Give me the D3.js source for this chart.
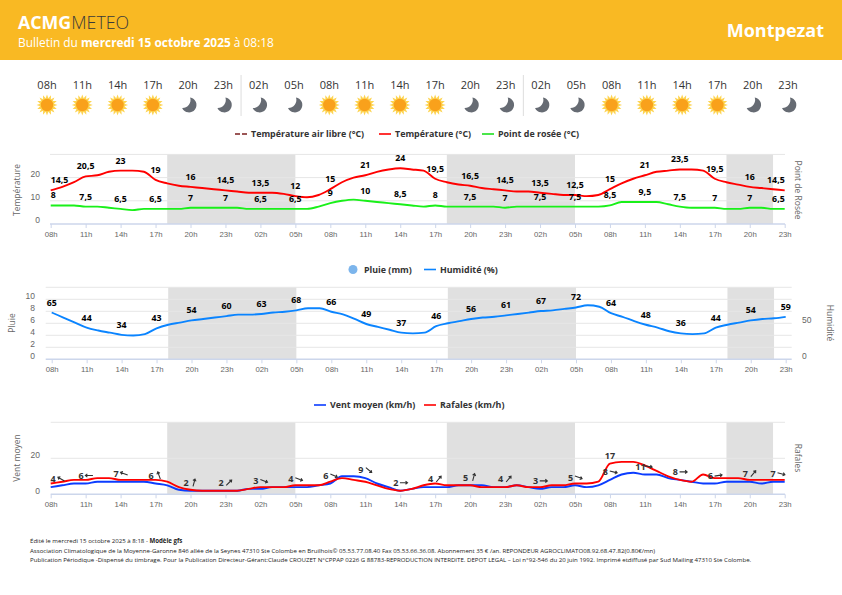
<!DOCTYPE html>
<html>
<head>
<meta charset="utf-8">
<script src="https://cdn.jsdelivr.net/npm/d3@7"></script>
<style>
  html, body { margin: 0; padding: 0; background: #fff; }
  svg { display: block; font-family: "Open Sans", sans-serif; }
  .tick text { fill: #666; font-size: 7.8px; }
  .legend { font-size: 8.9px; font-weight: 700; fill: #333; }
  .axis-title { font-size: 8.5px; fill: #666; }
</style>
</head>
<body>
<svg id="chart" width="842" height="595"></svg>
<script>
const stepLabels = ['08h', '11h', '14h', '17h', '20h', '23h', '02h', '05h', '08h', '11h', '14h', '17h', '20h', '23h', '02h', '05h', '08h', '11h', '14h', '17h', '20h', '23h'];
const skyIcons = ['sun', 'sun', 'sun', 'sun', 'moon', 'moon', 'moon', 'moon', 'sun', 'sun', 'sun', 'sun', 'moon', 'moon', 'moon', 'moon', 'sun', 'sun', 'sun', 'sun', 'moon', 'moon'];
const nightBands = [[10, 21], [34, 45], [58, 62]];

// hourly values, 08h on day one to 23h on day three
const temperature = [14.5, 16, 18, 20.5, 21, 22.5, 23, 23, 22.5, 19, 17.5, 16.5, 16, 15.5, 15, 14.5, 14, 13.5, 13.5, 13.5, 13, 12, 11.5, 12.5, 15, 18, 20, 21, 22.5, 23.5, 24, 23.5, 23, 19.5, 18, 17, 16.5, 15.5, 15, 14.5, 14, 14, 13.5, 13, 12.5, 12.5, 12, 12.5, 15, 17.5, 19.5, 21, 22.5, 23, 23.5, 23.5, 23, 19.5, 18, 17, 16, 15.5, 15, 14.5];
const dewPoint = [8, 8, 8, 7.5, 7.5, 7, 6.5, 6, 6.5, 6.5, 6.5, 6.5, 7, 7, 7, 7, 7, 6.5, 6.5, 6.5, 6.5, 6.5, 6.5, 7.5, 9, 10, 10.5, 10, 9.5, 9, 8.5, 8, 7.5, 8, 7.5, 7.5, 7.5, 7.5, 7.5, 7, 7.5, 7.5, 7.5, 7.5, 7.5, 7.5, 7.5, 7.5, 8, 9.5, 9.5, 9.5, 9.5, 8.5, 7.5, 7, 7, 7, 6.5, 6.5, 7, 7, 6.5, 6.5];
const humidity = [65, 58, 51, 44, 40, 37, 34, 33, 35, 43, 48, 51, 54, 56, 58, 60, 62, 62, 63, 65, 66, 68, 71, 71, 66, 62.5, 56, 49, 45, 41, 37, 36, 37, 46, 50, 53, 56, 58, 59, 61, 63, 65, 67, 68, 70, 72, 75, 73, 64, 59, 53, 48, 44, 39, 36, 35, 36, 44, 48, 51, 54, 56, 57, 59];
const windMean = [4, 5, 6, 6, 7, 7, 7, 7, 7, 6, 5, 2.5, 2, 2, 2, 2, 2, 3, 3, 4, 4, 4, 4, 5, 6, 10, 10, 9, 6, 4, 2, 3, 4, 4, 4, 5, 5, 5, 4, 4, 5, 4, 3, 4, 4, 5, 4, 5, 8, 11, 12, 11, 11, 9, 8, 7, 6, 6, 7, 7, 7, 6, 7, 7];
const windGust = [6, 7, 8, 8, 9, 9, 8, 8, 8, 8, 7, 4, 2.5, 2, 2, 2, 2, 3, 4, 4, 4, 5, 5, 5, 7, 9, 8, 7, 5, 3, 2, 3, 5, 6, 5, 5, 5, 4, 4, 4, 5, 4, 4, 5, 5, 6, 6, 7, 17, 18, 18, 16, 13, 10, 8, 7, 11, 9, 9, 9, 8, 8, 8, 8];

// labels shown every third hour
const temperatureLabels = [14.5, 20.5, 23, 19, 16, 14.5, 13.5, 12, 15, 21, 24, 19.5, 16.5, 14.5, 13.5, 12.5, 15, 21, 23.5, 19.5, 16, 14.5];
const dewPointLabels = [8, 7.5, 6.5, 6.5, 7, 7, 6.5, 6.5, 9, 10, 8.5, 8, 7.5, 7, 7.5, 7.5, 8.5, 9.5, 7.5, 7, 7, 6.5];
const humidityLabels = [65, 44, 34, 43, 54, 60, 63, 68, 66, 49, 37, 46, 56, 61, 67, 72, 64, 48, 36, 44, 54, 59];
const windLabels = [4, 6, 7, 6, 2, 2, 3, 4, 6, 9, 2, 4, 5, 4, 3, 5, 8, 11, 8, 6, 7, 7];
const windBearings = [300, 270, 290, 340, 15, 45, 110, 110, 115, 130, 90, 40, 15, 40, 90, 110, 105, 100, 90, 80, 40, 105];

const footerLines = [
    'Association Climatologique de la Moyenne-Garonne 846 allée de la Seynes 47310 Ste Colombe en Bruilhois© 05.53.77.08.40 Fax 05.53.66.36.08. Abonnement 35 € /an. REPONDEUR AGROCLIMATO08.92.68.47.82(0.80€/mn)',
    'Publication Périodique -Dispensé du timbrage. Pour la Publication Directeur-Gérant:Claude CROUZET N°CPPAP 0226 G 88783-REPRODUCTION INTERDITE. DEPOT LEGAL – Loi n°92-546 du 20 juin 1992. Imprimé etdiffusé par Sud Mailing 47310 Ste Colombe.'
];

const svg = d3.select('#chart');
const fmt = d => String(d).replace('.', ',');
const hours = d3.range(temperature.length);

function renderHeader() {
    svg.append('rect').attr('width', 842).attr('height', 60).attr('fill', '#f9b923');

    const logo = svg.append('text').attr('x', 18).attr('y', 29).attr('font-size', 17.8);
    logo.append('tspan').attr('font-weight', 700).attr('fill', '#fff').text('ACMG');
    logo.append('tspan').attr('font-weight', 300).attr('fill', '#3a3a3a').text('METEO');

    const sub = svg.append('text').attr('x', 18).attr('y', 47).attr('font-size', 11.9).attr('fill', '#fff');
    sub.append('tspan').text('Bulletin du ');
    sub.append('tspan').attr('font-weight', 700).text('mercredi 15 octobre 2025');
    sub.append('tspan').text(' à 08:18');

    svg.append('text')
        .attr('x', 824).attr('y', 37)
        .attr('text-anchor', 'end')
        .attr('font-size', 18).attr('font-weight', 700).attr('fill', '#fff')
        .text('Montpezat');
}

function sunPath() {
    const pts = d3.range(32).map(i => {
        const r = i % 2 ? 7 : 10.5;
        const a = i * Math.PI / 16;
        return [r * Math.sin(a), -r * Math.cos(a)];
    });
    return d3.line()(pts) + 'Z';
}

function renderSky() {
    const x = d3.scalePoint().domain(d3.range(stepLabels.length)).range([47, 788]);
    const moon = 'M1,-7.5 A7.5,7.5 0 1 1 -7,3 A8,8 0 0 0 1,-7.5 Z';
    const cell = svg.append('g').selectAll('g')
        .data(stepLabels)
        .enter()
        .append('g')
        .attr('transform', (d, i) => `translate(${x(i)},0)`);

    cell.append('text')
        .attr('y', 89)
        .attr('text-anchor', 'middle')
        .attr('font-size', 11)
        .attr('fill', '#333')
        .text(d => d);

    cell.filter((d, i) => skyIcons[i] === 'sun').each(function() {
        const g = d3.select(this).append('g').attr('transform', 'translate(0,105)');
        g.append('path').attr('d', sunPath()).attr('fill', '#fdd452');
        g.append('circle').attr('r', 6.2).attr('fill', '#f9a11b');
    });
    cell.filter((d, i) => skyIcons[i] === 'moon').each(function() {
        d3.select(this).append('path')
            .attr('transform', 'translate(1,105)')
            .attr('d', moon)
            .attr('fill', '#666b73');
    });

    svg.append('g').selectAll('line')
        .data([5.5, 13.5])
        .enter()
        .append('line')
        .attr('x1', d => x(0) + (x(1) - x(0)) * d)
        .attr('x2', d => x(0) + (x(1) - x(0)) * d)
        .attr('y1', 75).attr('y2', 116)
        .attr('stroke', '#ddd');
}

function renderLegend(y, items) {
    const g = svg.append('g');
    items.forEach(item => {
        if (item.dot) {
            g.append('circle').attr('cx', item.x).attr('cy', y).attr('r', 4.5).attr('fill', item.color);
        } else {
            g.append('line')
                .attr('x1', item.x).attr('x2', item.x + 12)
                .attr('y1', y).attr('y2', y)
                .attr('stroke', item.color).attr('stroke-width', 1.6)
                .attr('stroke-dasharray', item.dash || null);
        }
        g.append('text')
            .attr('class', 'legend')
            .attr('x', item.textX).attr('y', y + 3)
            .text(item.label);
    });
}

function yTitle(text, x, y, angle) {
    svg.append('text')
        .attr('class', 'axis-title')
        .attr('text-anchor', 'middle')
        .attr('transform', `translate(${x},${y}) rotate(${angle})`)
        .text(text);
}

// one panel: night bands, grid, axes, then the series
function renderPanel(cfg) {
    const x = d3.scaleLinear().domain([0, hours.length - 1]).range(cfg.xRange);
    const y = d3.scaleLinear().domain(cfg.yDomain).range(cfg.yRange);

    const g = svg.append('g');

    g.selectAll('rect.night')
        .data(nightBands)
        .enter()
        .append('rect')
        .attr('class', 'night')
        .attr('x', d => x(d[0]))
        .attr('width', d => x(d[1]) - x(d[0]))
        .attr('y', cfg.yRange[1])
        .attr('height', cfg.yRange[0] - cfg.yRange[1])
        .attr('fill', '#e0e0e0');

    g.append('g').selectAll('line')
        .data(cfg.gridValues)
        .enter()
        .append('line')
        .attr('x1', cfg.gridRange[0]).attr('x2', cfg.gridRange[1])
        .attr('y1', d => y(d)).attr('y2', d => y(d))
        .attr('stroke', '#e6e6e6');

    const xAxis = g.append('g')
        .attr('transform', `translate(0,${cfg.yRange[0]})`)
        .call(d3.axisBottom(x)
            .tickValues(stepLabels.map((d, i) => i * 3))
            .tickFormat((d, i) => stepLabels[i])
            .tickSize(4)
            .tickPadding(3));
    xAxis.select('.domain').attr('stroke', '#ccd6eb').attr('stroke-width', 1.4);
    xAxis.selectAll('.tick line').attr('stroke', '#ccd6eb');
    xAxis.selectAll('.domain').attr('d', `M${cfg.gridRange[0]},0H${cfg.gridRange[1]}`);

    const yAxis = g.append('g')
        .attr('transform', `translate(${cfg.yLabelX},0)`)
        .call(d3.axisLeft(y).tickValues(cfg.yTicks).tickSize(0).tickPadding(0));
    yAxis.select('.domain').remove();
    yAxis.selectAll('text').attr('y', -4).style('font-size', '8.5px');

    if (cfg.rightTicks) {
        const yr = d3.scaleLinear().domain(cfg.rightDomain).range(cfg.yRange);
        const rAxis = g.append('g')
            .attr('transform', `translate(${cfg.rightLabelX},0)`)
            .call(d3.axisRight(yr).tickValues(cfg.rightTicks).tickSize(0).tickPadding(0));
        rAxis.select('.domain').remove();
        rAxis.selectAll('text').attr('y', -4).style('font-size', '8.5px');
    }

    const lineY = cfg.lineScale
        ? d3.scaleLinear().domain(cfg.lineScale).range(cfg.yRange)
        : y;

    cfg.series.forEach(s => {
        const line = d3.line()
            .x((d, i) => x(i))
            .y(d => lineY(d))
            .curve(d3.curveMonotoneX);
        g.append('path')
            .datum(s.values)
            .attr('fill', 'none')
            .attr('stroke', s.color)
            .attr('stroke-width', 1.9)
            .attr('stroke-linejoin', 'round')
            .attr('d', line);
    });

    cfg.series.filter(s => s.labels).forEach(s => {
        g.append('g').selectAll('text')
            .data(s.labels)
            .enter()
            .append('text')
            .attr('text-anchor', 'middle')
            .attr('font-size', 8.8)
            .attr('font-weight', 700)
            .attr('fill', '#000')
            .attr('x', (d, i) => x(i * 3))
            .attr('y', (d, i) => lineY(s.values[i * 3]) - 7)
            .text(fmt)
            .each(function() {
                if (!cfg.clampLabels) return;
                // labels stay inside the plot area at both ends
                const half = this.getComputedTextLength() / 2;
                const cx = +this.getAttribute('x');
                this.setAttribute('x', Math.min(Math.max(cx, cfg.xRange[0] + half), cfg.xRange[1] - half));
            });
    });

    return { x, lineY, g };
}

function renderWindLabels(panel) {
    const { x, lineY, g } = panel;
    const cell = g.append('g').selectAll('g')
        .data(windLabels)
        .enter()
        .append('g')
        .attr('transform', (d, i) => {
            const shift = i === 0 ? 7 : i === windLabels.length - 1 ? -7 : 0;
            return `translate(${x(i * 3) + shift},${lineY(windMean[i * 3]) - 8})`;
        });

    cell.append('text')
        .attr('x', -4.5).attr('y', 3.2)
        .attr('text-anchor', 'middle')
        .attr('font-size', 9)
        .attr('font-weight', 700)
        .attr('fill', '#333')
        .text(d => d);

    cell.append('path')
        .attr('transform', (d, i) => `translate(3.5,0) rotate(${windBearings[i]})`)
        .attr('d', 'M0,3.8V-3.8M-1.6,-1.8L0,-3.8L1.6,-1.8')
        .attr('fill', 'none')
        .attr('stroke', '#333')
        .attr('stroke-width', 1.1);

    g.append('text')
        .attr('x', x(48)).attr('y', lineY(windGust[48]) - 5)
        .attr('text-anchor', 'middle')
        .attr('font-size', 9)
        .attr('font-weight', 700)
        .attr('fill', '#333')
        .text(17);
}

function renderFooter() {
    const g = svg.append('g').attr('font-size', 6.1).attr('fill', '#222');
    const first = g.append('text').attr('x', 30).attr('y', 543);
    first.append('tspan').text('Édité le mercredi 15 octobre 2025 à 8:18 - ');
    first.append('tspan').attr('font-weight', 700).text('Modèle gfs');
    g.selectAll('text.line')
        .data(footerLines)
        .enter()
        .append('text')
        .attr('class', 'line')
        .attr('x', 30)
        .attr('y', (d, i) => 552.7 + i * 9)
        .text(d => d);
}

renderHeader();
renderSky();

renderLegend(134, [
    { x: 235, textX: 251, color: '#7b1f1f', dash: '5,2', label: 'Température air libre (°C)' },
    { x: 379, textX: 395, color: '#ff0000', label: 'Température (°C)' },
    { x: 482, textX: 498, color: '#1fe01f', label: 'Point de rosée (°C)' }
]);
renderPanel({
    xRange: [50.7, 784.7],
    gridRange: [50, 785],
    yDomain: [0, 30],
    yRange: [224, 154.4],
    yTicks: [0, 10, 20],
    gridValues: [10, 20, 30],
    yLabelX: 40,
    clampLabels: true,
    series: [
        { values: dewPoint, color: '#19f019', labels: dewPointLabels },
        { values: temperature, color: '#ff0000', labels: temperatureLabels }
    ]
});
yTitle('Température', 20, 190, -90);
yTitle('Point de Rosée', 795, 190, 90);

renderLegend(269.5, [
    { dot: true, x: 353, textX: 364, color: '#7cb5ec', label: 'Pluie (mm)' },
    { x: 424, textX: 440, color: '#0a84ff', label: 'Humidité (%)' }
]);
renderPanel({
    xRange: [51.7, 785.7],
    gridRange: [45.7, 791.7],
    yDomain: [0, 12],
    yRange: [359.3, 287.3],
    yTicks: [0, 2, 4, 6, 8, 10],
    gridValues: [2, 4, 6, 8, 10, 12],
    yLabelX: 35,
    rightDomain: [0, 100],
    rightTicks: [0, 50],
    rightLabelX: 802,
    lineScale: [0, 100],
    series: [
        { values: humidity, color: '#0a84ff', labels: humidityLabels }
    ]
});
yTitle('Pluie', 15, 323, -90);
yTitle('Humidité', 827, 323, 90);

renderLegend(405, [
    { x: 314, textX: 330, color: '#0b3cff', label: 'Vent moyen (km/h)' },
    { x: 424, textX: 440, color: '#ff0000', label: 'Rafales (km/h)' }
]);
const windPanel = renderPanel({
    xRange: [50.7, 784.7],
    gridRange: [50.7, 785],
    yDomain: [0, 40],
    yRange: [494.3, 422.3],
    yTicks: [0, 20],
    gridValues: [20, 40],
    yLabelX: 40,
    series: [
        { values: windMean, color: '#0b3cff' },
        { values: windGust, color: '#ff0000' }
    ]
});
renderWindLabels(windPanel);
yTitle('Vent moyen', 20, 458, -90);
yTitle('Rafales', 795, 458, 90);

renderFooter();
</script>
</body>
</html>
